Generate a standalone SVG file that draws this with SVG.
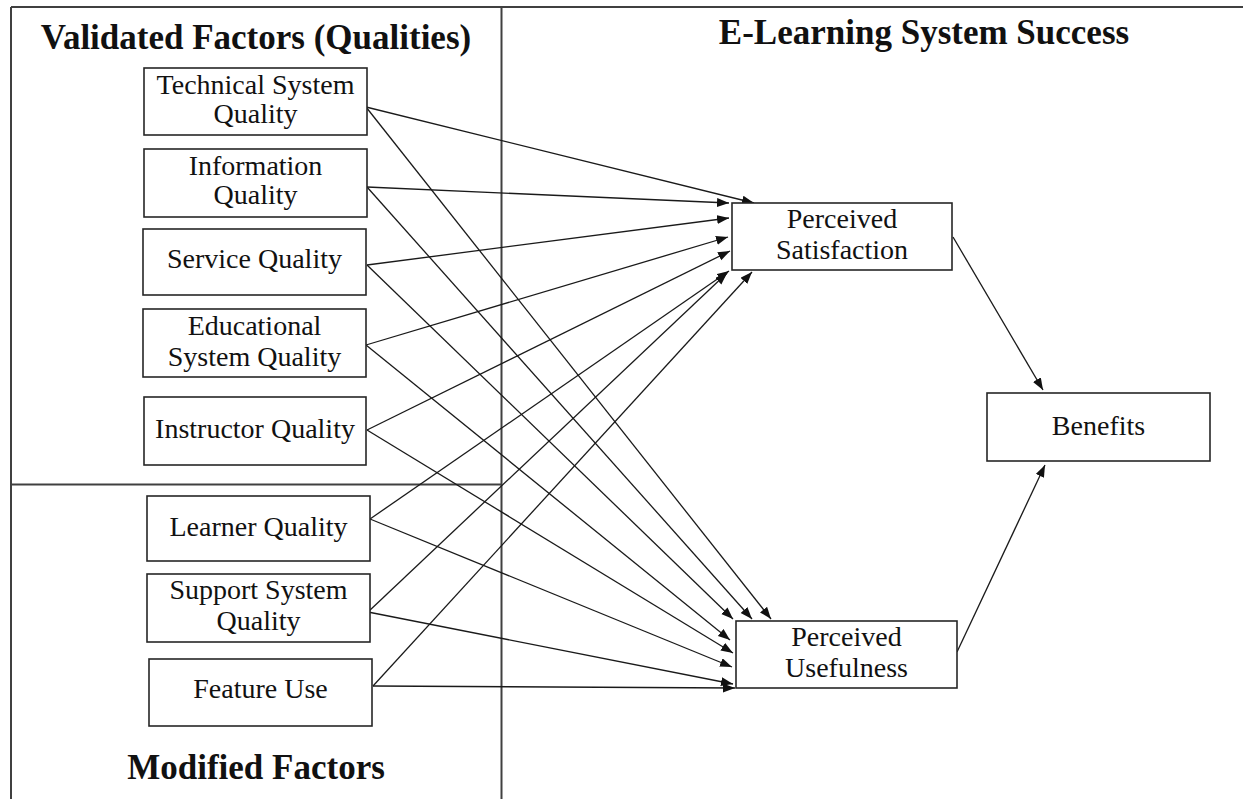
<svg xmlns="http://www.w3.org/2000/svg" width="1243" height="799" viewBox="0 0 1243 799">
<style>
  .frame { stroke: #404040; stroke-width: 2; fill: none; }
  .box { fill: #ffffff; stroke: #262626; stroke-width: 1.6; }
  .t { font-family: "Liberation Serif", "Times New Roman", serif; font-size: 28px; fill: #111; text-anchor: middle; }
  .title { font-family: "Liberation Serif", "Times New Roman", serif; font-size: 35px; font-weight: bold; fill: #111; text-anchor: middle; }
  .c line { stroke: #1a1a1a; stroke-width: 1.3; marker-end: url(#ah); }
</style>
<defs>
  <marker id="ah" markerUnits="userSpaceOnUse" markerWidth="13" markerHeight="10" refX="12" refY="4.5" orient="auto">
    <path d="M0,0 L12,4.5 L0,9 z" fill="#111"/>
  </marker>
</defs>
<rect width="1243" height="799" fill="#ffffff"/>
<g id="frame">
  <line class="frame" x1="11" y1="7" x2="1243" y2="7"/>
  <line class="frame" x1="11" y1="7" x2="11" y2="799"/>
  <line class="frame" x1="501.5" y1="7" x2="501.5" y2="799"/>
  <line class="frame" x1="11" y1="484.5" x2="501.5" y2="484.5"/>
</g>
<g id="titles">
  <text class="title" x="256" y="49">Validated Factors (Qualities)</text>
  <text class="title" x="924" y="44">E-Learning System Success</text>
  <text class="title" x="256" y="779">Modified Factors</text>
</g>
<g class="c" id="connectors">
  <line x1="366" y1="107" x2="754" y2="203"/>
  <line x1="367" y1="187" x2="729" y2="203"/>
  <line x1="367" y1="265" x2="729" y2="218"/>
  <line x1="366" y1="345" x2="728" y2="237"/>
  <line x1="367" y1="430" x2="730" y2="251"/>
  <line x1="370" y1="519" x2="729" y2="271"/>
  <line x1="368" y1="612" x2="727" y2="273"/>
  <line x1="373" y1="686" x2="752" y2="272"/>
  <line x1="366" y1="107" x2="771" y2="619"/>
  <line x1="367" y1="187" x2="752" y2="619"/>
  <line x1="367" y1="265" x2="733" y2="619"/>
  <line x1="366" y1="345" x2="730" y2="640"/>
  <line x1="367" y1="430" x2="733" y2="653"/>
  <line x1="370" y1="519" x2="732" y2="667"/>
  <line x1="368" y1="612" x2="733" y2="684"/>
  <line x1="373" y1="686" x2="735" y2="688"/>
  <line x1="953" y1="237" x2="1043" y2="390"/>
  <line x1="957" y1="652" x2="1045" y2="465"/>
</g>
<g id="n-tech">
  <rect class="box" x="144" y="68" width="223" height="67"/>
  <text class="t" x="255.5" y="94">Technical System</text>
  <text class="t" x="255.5" y="123">Quality</text>
</g>
<g id="n-info">
  <rect class="box" x="144" y="149" width="223" height="68"/>
  <text class="t" x="255.5" y="175">Information</text>
  <text class="t" x="255.5" y="204">Quality</text>
</g>
<g id="n-service">
  <rect class="box" x="143" y="229" width="223" height="66"/>
  <text class="t" x="254.5" y="268">Service Quality</text>
</g>
<g id="n-edu">
  <rect class="box" x="143" y="309" width="223" height="68"/>
  <text class="t" x="254.5" y="335">Educational</text>
  <text class="t" x="254.5" y="366">System Quality</text>
</g>
<g id="n-instructor">
  <rect class="box" x="144" y="397" width="222" height="68"/>
  <text class="t" x="255" y="438">Instructor Quality</text>
</g>
<g id="n-learner">
  <rect class="box" x="147" y="496" width="223" height="65"/>
  <text class="t" x="258.5" y="536">Learner Quality</text>
</g>
<g id="n-support">
  <rect class="box" x="147" y="574" width="223" height="68"/>
  <text class="t" x="258.5" y="599">Support System</text>
  <text class="t" x="258.5" y="630">Quality</text>
</g>
<g id="n-feature">
  <rect class="box" x="149" y="659" width="223" height="67"/>
  <text class="t" x="260.5" y="698">Feature Use</text>
</g>
<g id="n-ps">
  <rect class="box" x="732" y="203" width="220" height="67"/>
  <text class="t" x="842" y="228">Perceived</text>
  <text class="t" x="842" y="259">Satisfaction</text>
</g>
<g id="n-pu">
  <rect class="box" x="736" y="621" width="221" height="67"/>
  <text class="t" x="846.5" y="646">Perceived</text>
  <text class="t" x="846.5" y="677">Usefulness</text>
</g>
<g id="n-benefits">
  <rect class="box" x="987" y="393" width="223" height="68"/>
  <text class="t" x="1098.5" y="435">Benefits</text>
</g>
</svg>
